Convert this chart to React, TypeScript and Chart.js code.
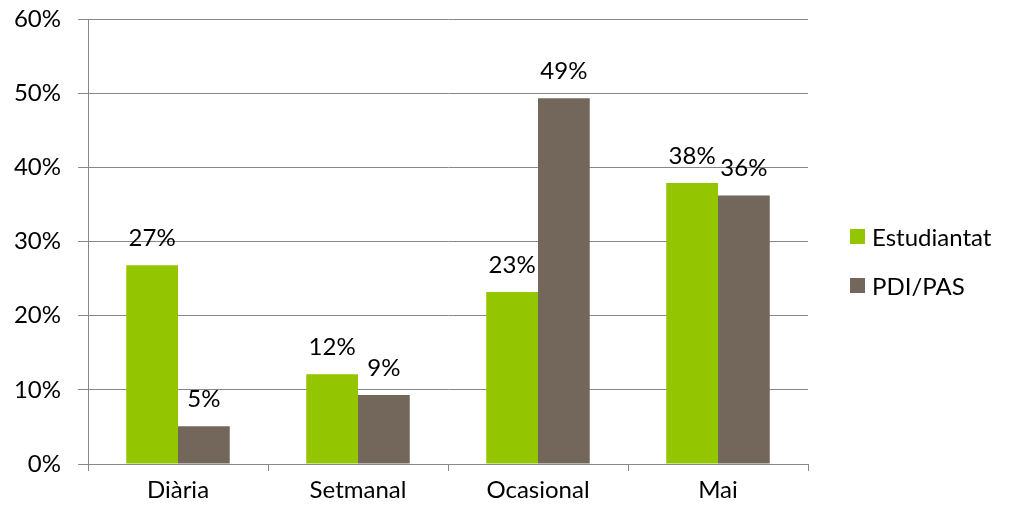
import React, { useEffect, useRef } from "react";
import { Chart, registerables } from "chart.js";

Chart.register(...registerables);

const categories = ["Diària", "Setmanal", "Ocasional", "Mai"];
const estudiantat = [26.8, 12.1, 23.2, 37.9];
const pdiPas = [5.1, 9.3, 49.3, 36.2];
const seriesNames = ["Estudiantat", "PDI/PAS"];
const seriesColors = ["#94C600", "#72675A"];
const yTicks = [0, 10, 20, 30, 40, 50, 60];

const FONT = "Lato, 'Open Sans', sans-serif";
const FONT_SIZE = 24;
const GRID = "#888888";

const labelPlugin = {
  id: "barLabels",
  afterDatasetsDraw(chart: any) {
    const ctx = chart.ctx;
    ctx.save();
    ctx.font = `${FONT_SIZE}px ${FONT}`;
    ctx.fillStyle = "#000";
    ctx.textAlign = "center";
    ctx.textBaseline = "middle";
    chart.data.datasets.forEach((ds: any, i: number) => {
      const meta = chart.getDatasetMeta(i);
      meta.data.forEach((el: any, j: number) => {
        const v = ds.data[j];
        ctx.fillText(Math.round(v) + "%", el.x, el.y - 27);
      });
    });
    ctx.restore();
  },
};

export default function App() {
  const ref = useRef<HTMLCanvasElement>(null);
  useEffect(() => {
    if (!ref.current) return;
    const chart = new Chart(ref.current, {
      type: "bar",
      data: {
        labels: categories,
        datasets: [
          { label: seriesNames[0], data: estudiantat, backgroundColor: seriesColors[0] },
          { label: seriesNames[1], data: pdiPas, backgroundColor: seriesColors[1] },
        ],
      },
      options: {
        animation: false,
        responsive: false,
        maintainAspectRatio: false,
        layout: { padding: { top: 19, right: 201, left: 0, bottom: 0 } },
        plugins: { legend: { display: false }, tooltip: { enabled: false } },
        datasets: { bar: { categoryPercentage: 0.575, barPercentage: 1 } },
        scales: {
          x: {
            offset: true,
            grid: {
              offset: true,
              drawOnChartArea: false,
              drawTicks: true,
              tickLength: 7,
              color: GRID,
              lineWidth: 1,
            },
            border: { display: true, color: GRID, width: 1 },
            ticks: {
              font: { family: FONT, size: FONT_SIZE },
              color: "#000",
              padding: 5,
            },
            afterFit: (s: any) => {
              s.height = 46;
              s.paddingLeft = 0;
              s.paddingRight = 0;
            },
          },
          y: {
            min: 0,
            max: 60,
            afterBuildTicks: (s: any) => {
              s.ticks = yTicks.map((v) => ({ value: v }));
            },
            grid: { color: GRID, lineWidth: 1, tickLength: 10, drawTicks: true },
            border: { display: true, color: GRID, width: 1 },
            ticks: {
              font: { family: FONT, size: FONT_SIZE },
              color: "#000",
              padding: 17,
              callback: (v: any) => v + "%",
            },
            afterFit: (s: any) => {
              s.width = 88;
              s.paddingTop = 0;
              s.paddingBottom = 0;
            },
          },
        },
      },
      plugins: [labelPlugin],
    });
    return () => chart.destroy();
  }, []);

  return (
    <div style={{ position: "absolute", left: 0, top: 0, width: 1009, height: 510, background: "#fff" }}>
      <canvas ref={ref} width={1009} height={510} style={{ position: "absolute", left: 0, top: 0 }} />
      {seriesNames.map((n, i) => (
        <div
          key={n}
          style={{
            position: "absolute",
            left: 850,
            top: 221 + i * 49,
            height: 30,
            display: "flex",
            alignItems: "center",
            fontFamily: FONT,
            fontSize: FONT_SIZE,
            color: "#000",
            whiteSpace: "nowrap",
          }}
        >
          <span style={{ display: "inline-block", width: 15, height: 15, background: seriesColors[i], marginRight: 7 }} />
          <span>{n}</span>
        </div>
      ))}
    </div>
  );
}
